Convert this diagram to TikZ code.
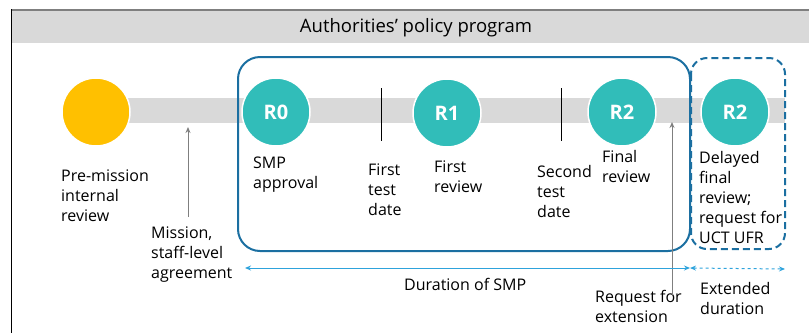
\documentclass[tikz,border=0pt]{standalone}
\usepackage{fontspec}
\setmainfont{Open Sans}
\usetikzlibrary{arrows.meta,positioning}

\definecolor{rteal}{HTML}{31BDB9}
\definecolor{ryellow}{HTML}{FFC000}
\definecolor{rgray}{HTML}{D9D9D9}
\definecolor{rline}{HTML}{7F7F7F}
\definecolor{rblue}{HTML}{1B6FA1}
\definecolor{rsky}{HTML}{2EA3DC}

\begin{document}
\begin{tikzpicture}[x=1pt,y=-1pt,>={Stealth[length=6pt,width=5pt]},
  review/.style={circle,fill=rteal,draw=white,line width=1.5pt,minimum size=68pt,
    inner sep=0pt,text=white,font=\fontsize{20}{20}\selectfont\bfseries},
  lbl/.style={anchor=base west,align=left,inner sep=0pt,font=\fontsize{16}{20}\selectfont},
  tick/.style={black,line width=1pt},
  pointer/.style={->,rline,line width=1pt},
  span/.style={<->,rsky,line width=1pt}]
  \useasboundingbox (0,0) rectangle (809,333);
  % frame and header
  \fill[rgray] (12,11) rectangle (809,43);
  \draw[rline,line width=2pt] (11,10) -- (809,10);
  \draw[black,line width=1pt] (11.5,9) -- (11.5,333);
  \node (title) at (416,28) {\fontsize{18.5}{18.5}\selectfont Authorities’ policy program};
  % timeline
  \fill[rgray] (100,98) rectangle (785,123);
  \draw[tick] (381,88) -- (381,141);
  \draw[tick] (561,88) -- (561,141);
  \node[circle,fill=ryellow,draw=white,line width=1.5pt,minimum size=68pt] (pre) at (96,112) {};
  \node[review] (r0) at (276,112) {R0};
  \node[review] (r1) at (447,113) {R1};
  \node[review] (r2) at (622,112) {R2};
  \node[review] (r2d) at (735,112) {R2};
  % boxes
  \draw[rblue,line width=2pt,rounded corners=22pt] (238,57) rectangle (690,251);
  \draw[rblue,line width=2pt,rounded corners=16pt,dash pattern=on 7pt off 4pt] (691,58) rectangle (785,249);
  % labels (placed at the baseline of their last line)
  \node[lbl] (premission) at (61,221) {Pre-mission\\internal\\review};
  \node[lbl] (mission) at (151,278) {Mission,\\staff-level\\agreement};
  \node[lbl] (smp) at (253,188) {SMP\\approval};
  \node[lbl] (test1) at (368,215) {First\\test\\date};
  \node[lbl] (rev1) at (434,192) {First\\review};
  \node[lbl] (test2) at (537,217) {Second\\test\\date};
  \node[lbl] (final) at (602,182) {Final\\review};
  \node[lbl] (delayed) at (699,243) {Delayed\\final\\review;\\request for\\UCT UFR};
  \node[lbl] (duration) at (404,290) {Duration of SMP};
  \node[lbl] (request) at (595,322) {Request for\\extension};
  \node[lbl] (extended) at (700,314) {Extended\\duration};
  % pointers
  \coordinate (misbot) at (188,217);
  \coordinate (mistop) at (188,127);
  \coordinate (extbot) at (672,295);
  \coordinate (exttop) at (672,122);
  \draw[pointer] (misbot) -- (mistop);
  \draw[pointer] (extbot) -- (exttop);
  % durations
  \coordinate (durL) at (245,268);
  \coordinate (durM) at (690,268);
  \coordinate (durR) at (785,269);
  \draw[span] (durL) -- (durM);
  \draw[span,dashed] (durM) -- (durR);
\end{tikzpicture}
\end{document}
